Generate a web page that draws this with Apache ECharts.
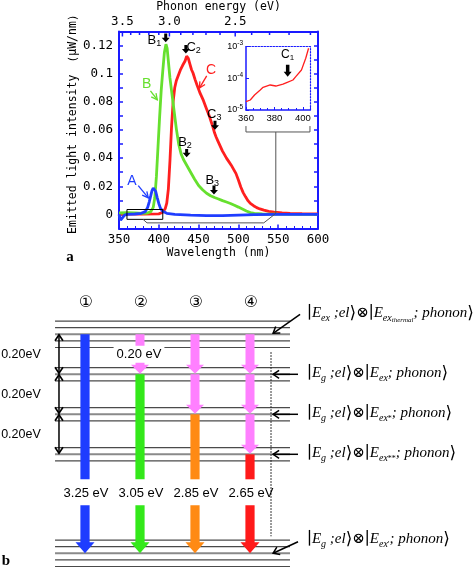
<!DOCTYPE html>
<html><head><meta charset="utf-8">
<script src="https://cdn.jsdelivr.net/npm/echarts@6.0.0/dist/echarts.min.js"></script>
<style>html,body{margin:0;padding:0;background:#fff;}#chart{width:474px;height:568px;}</style>
</head><body><div id="chart"></div>
<script>
// ---------- Panel a: emission spectra ----------
const wavelengthA = [350, 352, 354, 357, 360, 370, 378, 383, 386, 388, 390, 391.5, 393, 394.5, 396, 398, 400, 402, 405, 410, 420, 440, 460, 480, 500, 520, 550, 580, 600];
const intensityA  = [0.000, -0.004, -0.003, -0.0005, 0.000, 0.0003, 0.0008, 0.002, 0.005, 0.009, 0.0135, 0.017, 0.0188, 0.0185, 0.0165, 0.012, 0.0078, 0.0045, 0.0022, 0.0008, 0.000, -0.0005, -0.0008, -0.0008, -0.0005, -0.0002, 0.000, 0.0001, 0.0001];

const wavelengthB = [350, 360, 370, 380, 386, 390, 393, 395, 397, 399, 401, 403, 405, 407, 409, 410.5, 412, 414, 416, 418, 420, 422, 425, 428, 431, 434, 437, 440, 445, 450, 455, 460, 465, 470, 475, 480, 485, 490, 495, 500, 505, 510, 515, 520, 530, 550, 575, 600];
const intensityB  = [0.001, 0.0012, 0.001, 0.0008, 0.001, 0.002, 0.005, 0.012, 0.027, 0.048, 0.069, 0.088, 0.102, 0.115, 0.121, 0.118, 0.109, 0.097, 0.088, 0.079, 0.070, 0.061, 0.050, 0.043, 0.039, 0.0360, 0.033, 0.030, 0.025, 0.0205, 0.0175, 0.015, 0.0133, 0.012, 0.011, 0.0098, 0.0088, 0.0078, 0.0065, 0.0052, 0.0038, 0.0024, 0.0013, 0.0007, 0.0003, 0.0002, 0.0001, 0.0001];

const wavelengthC = [350, 380, 400, 405, 408, 410, 412, 414, 416, 418, 420, 422, 424, 427, 430, 433, 435, 437, 439, 441, 443, 445.5, 448, 450, 452, 454, 456, 458, 460, 462, 464, 466, 468, 470, 472, 474, 476, 478, 480, 482, 485, 488, 491, 494, 497, 500, 503, 506, 509, 512, 515, 519, 523, 527, 532, 538, 545, 555, 565, 580, 600];
const intensityC  = [0.0002, 0.0002, 0.0004, 0.0015, 0.004, 0.008, 0.018, 0.038, 0.062, 0.080, 0.090, 0.095, 0.098, 0.1025, 0.106, 0.109, 0.1125, 0.111, 0.107, 0.103, 0.1005, 0.096, 0.092, 0.089, 0.086, 0.0835, 0.081, 0.078, 0.075, 0.072, 0.069, 0.0655, 0.062, 0.058, 0.055, 0.0525, 0.050, 0.0475, 0.045, 0.043, 0.040, 0.0375, 0.035, 0.032, 0.029, 0.0245, 0.0195, 0.0155, 0.0125, 0.0098, 0.0078, 0.0062, 0.0048, 0.0039, 0.0030, 0.0022, 0.0016, 0.0011, 0.0008, 0.0005, 0.0003];

const insetWavelength = [360, 363, 366, 370, 372, 377, 381, 386, 389, 393, 395, 399, 402, 404];
const insetIntensityC = [1.83e-5, 2.07e-5, 2.98e-5, 4.28e-5, 5.2e-5, 6.17e-5, 5.73e-5, 6.6e-5, 7.5e-5, 8.87e-5, 1.13e-4, 1.84e-4, 4.3e-4, 8.9e-4];

const phononEnergyLabels = [3.5, 3.0, 2.5];
const phononEnergyTicks = [3.5, 3.4, 3.3, 3.2, 3.1, 3.0, 2.9, 2.8, 2.7, 2.6, 2.5, 2.4, 2.3, 2.2, 2.1];
const zoomWindow = [360, 405, -0.0035, 0.0035];

// ---------- Panel b: energy level diagram ----------
const pathwayLabels = ['\u2460', '\u2461', '\u2462', '\u2463'];
const emissionEnergies = [3.25, 3.05, 2.85, 2.65];
const excitedLevels = [3.25, 3.05, 2.85, 2.65];
const relaxationStep = 0.20;
const groundLevel = 0;
const phononSublevelSpacing = 0.033;

// ---------- styles ----------
const FRAME = '#1a1aff';
const MONO = '"DejaVu Sans Mono", "Liberation Mono", monospace';
const SANS = '"Liberation Sans", Arial, sans-serif';
const SERIF = '"Liberation Serif", "DejaVu Serif", serif';
const C_BLUE = '#1f3dff', C_GREEN = '#66e02e', C_RED = '#ff1f1f';
const COL_COLORS = ['#1e3cff', '#33e81a', '#ff8a14', '#ff1a1a'];
const PINK = '#ff80ff';
const LINE_C0 = 0.455, LINE_C1 = 4.727, CUT_E = 2.525, ARROW_TOP_E = 0.24;

const zip = (xs, ys) => xs.map((x, i) => [x, ys[i]]);

function downArrowPts(x, y0, y1, bw, hw, hl) {
  return [[x - bw / 2, y0], [x + bw / 2, y0], [x + bw / 2, y1 - hl], [x + hw / 2, y1 - hl], [x, y1], [x - hw / 2, y1 - hl], [x - bw / 2, y1 - hl]];
}
function headPts(from, to, hl, hh) {
  const dx = to[0] - from[0], dy = to[1] - from[1], L = Math.hypot(dx, dy) || 1;
  const ux = dx / L, uy = dy / L, nx = -uy, ny = ux;
  const bx = to[0] - ux * hl, by = to[1] - uy * hl;
  return [[bx + nx * hh, by + ny * hh], to, [bx - nx * hh, by - ny * hh]];
}
function openArrow(from, to, color, lw, hl, hh) {
  return [
    { type: 'polyline', shape: { points: [from, to] }, style: { stroke: color, lineWidth: lw, fill: 'none' } },
    { type: 'polyline', shape: { points: headPts(from, to, hl, hh) }, style: { stroke: color, lineWidth: lw, fill: 'none' } }
  ];
}
function txt(x, y, text, font, color, extra) {
  return Object.assign({ type: 'text', x: x, y: y, style: Object.assign({ text: text, font: font, fill: color || '#000', align: 'center', verticalAlign: 'middle', textAlign: 'center', textVerticalAlign: 'middle' }, extra || {}) });
}

const ketRich = {
  i: { fontFamily: SERIF, fontStyle: 'italic', fontSize: 15, lineHeight: 20, verticalAlign: 'middle', fill: '#000', color: '#000' },
  u: { fontFamily: SERIF, fontSize: 15, lineHeight: 20, verticalAlign: 'middle', fill: '#000', color: '#000' },
  b: { fontFamily: '"DejaVu Serif", serif', fontSize: 17, lineHeight: 20, verticalAlign: 'middle', fill: '#000', color: '#000' },
  s: { fontFamily: SERIF, fontStyle: 'italic', fontSize: 10, lineHeight: 10, verticalAlign: 'bottom', fill: '#000', color: '#000' },
  t: { fontFamily: SERIF, fontStyle: 'italic', fontSize: 7, lineHeight: 7, verticalAlign: 'bottom', fill: '#000', color: '#000' },
  p: { fontFamily: SERIF, fontSize: 8, lineHeight: 8, verticalAlign: 'bottom', fill: '#000', color: '#000' }
};
const ketTexts = [
  '{b|\u2223}{i|E}{s|ex}{i| ;el}{b|\u27E9}{u|\u2297}{b|\u2223}{i|E}{s|ex}{t|thermal}{i|; phonon}{b|\u27E9}',
  '{b|\u2223}{i|E}{s|g}{i| ;el}{b|\u27E9}{u|\u2297}{b|\u2223}{i|E}{s|ex}{i|; phonon}{b|\u27E9}',
  '{b|\u2223}{i|E}{s|g}{i| ;el}{b|\u27E9}{u|\u2297}{b|\u2223}{i|E}{s|ex}{p|*}{i|; phonon}{b|\u27E9}',
  '{b|\u2223}{i|E}{s|g}{i| ;el}{b|\u27E9}{u|\u2297}{b|\u2223}{i|E}{s|ex}{p|**}{i|; phonon}{b|\u27E9}',
  '{b|\u2223}{i|E}{s|g}{i| ;el}{b|\u27E9}{u|\u2297}{b|\u2223}{i|E}{s|ex}{p|\u2032}{i|; phonon}{b|\u27E9}'
];
function ketRender(params, api) {
  const e = api.value(1), i = api.value(2);
  const tip = api.coord([4.42, i === 0 ? e + 0.005 : e]);
  let from, tp;
  if (i === 0) { from = api.coord([4.91, e + 0.1]); tp = api.coord([5.036, e + 0.105]); }
  else if (i === 4) { from = api.coord([4.873, e + 0.058]); tp = api.coord([5.036, e + 0.07]); }
  else { from = api.coord([4.873, e]); tp = api.coord([5.036, e + 0.006]); }
  const ch = openArrow(from, tip, '#000', 1.5, 6, 4);
  ch.push({ type: 'text', x: tp[0], y: tp[1], style: { text: ketTexts[i], rich: ketRich, align: 'left', textAlign: 'left', verticalAlign: 'middle', textVerticalAlign: 'middle' } });
  return { type: 'group', children: ch };
}
function levelRender(params, api) {
  const e = api.value(1), main = api.value(2);
  const a = api.coord([LINE_C0, e]), b = api.coord([LINE_C1, e]);
  return { type: 'line', shape: { x1: a[0], y1: a[1], x2: b[0], y2: b[1] }, style: { stroke: main ? '#8a8a8a' : '#4a4a4a', lineWidth: main ? 2 : 1.2 } };
}

const topLevelLines = [2, 1, 0, -1, -2].map(k => [LINE_C0, excitedLevels[0] + k * phononSublevelSpacing, k === 0 ? 1 : 0]);
const midLevelLines = [];
excitedLevels.slice(1).forEach(L => [1, 0, -1].forEach(k => midLevelLines.push([LINE_C0, L + k * phononSublevelSpacing, k === 0 ? 1 : 0])));
const groundLines = [2, 1, 0, -1, -2].map(k => [LINE_C0, groundLevel + k * phononSublevelSpacing, k === 0 ? 1 : 0]);

const chart = echarts.init(document.getElementById('chart'));
const yMax = 0.13;

const option = {
  animation: false,
  backgroundColor: '#fff',
  grid: [
    { left: 119, top: 31.5, width: 199, height: 197, outerBoundsMode: 'none' },
    { left: 246, top: 46.7, width: 64, height: 63.3, outerBoundsMode: 'none' },
    { left: 30, top: 314.3, width: 440, height: 165, outerBoundsMode: 'none' },
    { left: 30, top: 503.3, width: 440, height: 65, outerBoundsMode: 'none' }
  ],
  xAxis: [
    { gridIndex: 0, type: 'value', min: 350, max: 600, interval: 50, position: 'bottom',
      axisLine: { onZero: false, lineStyle: { color: FRAME, width: 2 } },
      axisTick: { inside: true, length: 4, lineStyle: { color: FRAME, width: 1.5 } },
      minorTick: { show: true, splitNumber: 5, length: 2.5, lineStyle: { color: FRAME, width: 1 } },
      splitLine: { show: false },
      axisLabel: { color: '#000', fontFamily: MONO, fontSize: 12.5, margin: 5 },
      name: 'Wavelength (nm)', nameLocation: 'middle', nameGap: 19,
      nameTextStyle: { color: '#000', fontFamily: MONO, fontSize: 11.5 } },
    { gridIndex: 0, type: 'value', min: 350, max: 600, position: 'top',
      axisLine: { onZero: false, lineStyle: { color: FRAME, width: 2 } },
      axisTick: { show: false }, axisLabel: { show: false }, splitLine: { show: false },
      name: 'Phonon energy (eV)', nameLocation: 'middle', nameGap: 18,
      nameTextStyle: { color: '#000', fontFamily: MONO, fontSize: 11.5 } },
    { gridIndex: 1, type: 'value', min: 360, max: 405, interval: 20, position: 'bottom',
      axisLine: { onZero: false, lineStyle: { color: FRAME, width: 1.5 } },
      axisTick: { inside: true, length: 3, lineStyle: { color: FRAME } },
      minorTick: { show: true, splitNumber: 4, length: 2, lineStyle: { color: FRAME } },
      splitLine: { show: false },
      axisLabel: { color: '#000', fontFamily: SANS, fontSize: 9.5, margin: 3 } },
    { gridIndex: 1, type: 'value', min: 360, max: 405, position: 'top',
      axisLine: { onZero: false, lineStyle: { color: FRAME, width: 1.2, type: [1.5, 1.5] } },
      axisTick: { show: false }, axisLabel: { show: false }, splitLine: { show: false } },
    { gridIndex: 2, type: 'value', min: 0, max: 8, show: false },
    { gridIndex: 3, type: 'value', min: 0, max: 8, show: false }
  ],
  yAxis: [
    { gridIndex: 0, type: 'value', min: -0.01, max: yMax, interval: 0.01,
      axisLine: { onZero: false, lineStyle: { color: FRAME, width: 2 } },
      axisTick: { inside: true, length: 4, lineStyle: { color: FRAME, width: 1.5 } },
      splitLine: { show: false },
      axisLabel: { color: '#000', fontFamily: MONO, fontSize: 12.5, margin: 6,
        formatter: v => { const n = Math.round(v * 100); return (n >= 0 && n % 2 === 0 && n <= 12) ? String(n / 100) : ''; } },
      name: 'Emitted light intensity \uFF08\u03BCW/nm\uFF09', nameLocation: 'middle', nameGap: 38,
      nameTextStyle: { color: '#000', fontFamily: MONO, fontSize: 11.5, padding: [0, 0, 0, 17] } },
    { gridIndex: 0, type: 'value', min: -0.01, max: yMax, interval: 0.01, position: 'right',
      axisLine: { onZero: false, lineStyle: { color: FRAME, width: 2 } },
      axisTick: { inside: true, length: 4, lineStyle: { color: FRAME, width: 1.5 } },
      axisLabel: { show: false }, splitLine: { show: false } },
    { gridIndex: 1, type: 'log', logBase: 10, min: 1e-5, max: 1e-3,
      axisLine: { onZero: false, lineStyle: { color: FRAME, width: 1.5 } },
      axisTick: { inside: true, length: 3, lineStyle: { color: FRAME } },
      splitLine: { show: false },
      axisLabel: { margin: 3, formatter: v => '{b|10}{s|' + Math.round(Math.log10(v)) + '}',
        rich: { b: { fontFamily: SANS, fontSize: 9, color: '#000' }, s: { fontFamily: SANS, fontSize: 6.5, color: '#000', verticalAlign: 'top', padding: [0, 0, 6, 0] } } } },
    { gridIndex: 1, type: 'log', logBase: 10, min: 1e-5, max: 1e-3, position: 'right',
      axisLine: { onZero: false, lineStyle: { color: FRAME, width: 1.2, type: [1.5, 1.5] } },
      axisTick: { show: false }, axisLabel: { show: false }, splitLine: { show: false } },
    { gridIndex: 2, type: 'value', min: CUT_E, max: 3.35, show: false },
    { gridIndex: 3, type: 'value', min: -0.075, max: 0.25, show: false }
  ],
  series: [
    { type: 'line', name: 'C', xAxisIndex: 0, yAxisIndex: 0, data: zip(wavelengthC, intensityC), showSymbol: false, lineStyle: { color: C_RED, width: 2.8 }, z: 3 },
    { type: 'line', name: 'B', xAxisIndex: 0, yAxisIndex: 0, data: zip(wavelengthB, intensityB), showSymbol: false, lineStyle: { color: C_GREEN, width: 2.8 }, z: 3 },
    { type: 'line', name: 'A', xAxisIndex: 0, yAxisIndex: 0, data: zip(wavelengthA, intensityA), showSymbol: false, lineStyle: { color: C_BLUE, width: 2.8 }, z: 3 },
    { type: 'line', name: 'C inset', xAxisIndex: 2, yAxisIndex: 2, data: zip(insetWavelength, insetIntensityC), showSymbol: false, lineStyle: { color: C_RED, width: 1.3 } },
    // zoom window rectangle
    { type: 'custom', xAxisIndex: 0, yAxisIndex: 0, silent: true, z: 4, data: [zoomWindow],
      renderItem: (params, api) => {
        const a = api.coord([api.value(0), api.value(3)]), b = api.coord([api.value(1), api.value(2)]);
        return { type: 'rect', shape: { x: a[0], y: a[1], width: b[0] - a[0], height: b[1] - a[1] }, style: { stroke: '#000', fill: 'none', lineWidth: 1 } };
      } },
    // phonon energy top axis ticks & labels
    { type: 'custom', xAxisIndex: 1, yAxisIndex: 0, silent: true, z: 4,
      data: phononEnergyTicks.map(e => [1240 / e, yMax, e]),
      renderItem: (params, api) => {
        const e = api.value(2);
        const p = api.coord([api.value(0), api.value(1)]);
        const major = phononEnergyLabels.some(m => Math.abs(m - e) < 1e-6);
        const ch = [{ type: 'line', shape: { x1: p[0], y1: p[1], x2: p[0], y2: p[1] + (major ? 5 : 3.5) }, style: { stroke: FRAME, lineWidth: 1.5 } }];
        if (major) ch.push(txt(p[0], p[1] - 10, e.toFixed(1), '12.5px ' + MONO, '#000'));
        return { type: 'group', children: ch };
      } },
    // diagram: level lines (upper)
    { type: 'custom', xAxisIndex: 4, yAxisIndex: 4, silent: true, data: topLevelLines.concat(midLevelLines), renderItem: levelRender },
    // diagram: ground lines
    { type: 'custom', xAxisIndex: 5, yAxisIndex: 5, silent: true, data: groundLines, renderItem: levelRender },
    // dotted line
    { type: 'custom', xAxisIndex: 4, yAxisIndex: 4, silent: true, data: [[4.382, 3.16, 2.24]],
      renderItem: (params, api) => {
        const a = api.coord([api.value(0), api.value(1)]), b = api.coord([api.value(0), api.value(2)]);
        return { type: 'line', shape: { x1: a[0], y1: a[1], x2: b[0], y2: b[1] }, style: { stroke: '#222', lineWidth: 1.2, lineDash: [1.5, 1.5] } };
      } },
    // diagram: pathways upper part
    { type: 'custom', xAxisIndex: 4, yAxisIndex: 4, silent: true, z: 5,
      data: emissionEnergies.map((e, i) => [i + 1, e, i]),
      renderItem: (params, api) => {
        const col = api.value(0), e = api.value(1), k = api.value(2);
        const top = excitedLevels[0];
        const ch = [];
        for (let j = 0; j < k; j++) {
          const a = api.coord([col, top - j * relaxationStep]);
          const b = api.coord([col, top - (j + 1) * relaxationStep]);
          ch.push({ type: 'polygon', shape: { points: downArrowPts(a[0], a[1], b[1] - 0.5, 9, 18, 9) }, style: { fill: PINK } });
        }
        const s = api.coord([col, e]), b = api.coord([col, CUT_E]);
        ch.push({ type: 'rect', shape: { x: s[0] - 4.6, y: s[1], width: 9.2, height: b[1] - s[1] }, style: { fill: COL_COLORS[k] } });
        const n = api.coord([col, 3.408]);
        ch.push(txt(n[0] + 1, n[1], pathwayLabels[k], '16px "DejaVu Sans", sans-serif', '#000'));
        if (k === 1) {
          const m = api.coord([col, top - relaxationStep / 2]);
          ch.push(txt(m[0] - 1, m[1], relaxationStep.toFixed(2) + ' eV', '13px ' + SANS, '#000', { backgroundColor: '#fff', padding: [2, 3, 2, 3] }));
        }
        return { type: 'group', children: ch };
      } },
    // diagram: pathways lower part (emission arrows)
    { type: 'custom', xAxisIndex: 5, yAxisIndex: 5, silent: true, z: 5,
      data: emissionEnergies.map((e, i) => [i + 1, e, i]),
      renderItem: (params, api) => {
        const col = api.value(0), e = api.value(1), k = api.value(2);
        const a = api.coord([col, ARROW_TOP_E]), b = api.coord([col, groundLevel]);
        const l = api.coord([col, 0.30]);
        return { type: 'group', children: [
          { type: 'polygon', shape: { points: downArrowPts(a[0], a[1], b[1], 9.2, 19, 11) }, style: { fill: COL_COLORS[k] } },
          txt(l[0] + 1, l[1], e.toFixed(2) + ' eV', '13px ' + SANS, '#000')
        ] };
      } },
    // diagram: left double arrows with 0.20 eV
    { type: 'custom', xAxisIndex: 4, yAxisIndex: 4, silent: true, z: 5,
      data: excitedLevels.slice(0, 3).map((e, i) => [0.527, e, excitedLevels[i + 1]]),
      renderItem: (params, api) => {
        const a = api.coord([api.value(0), api.value(1)]), b = api.coord([api.value(0), api.value(2)]);
        const top = [a[0], a[1] + 0.5], bot = [b[0], b[1] - 1];
        const ch = [{ type: 'line', shape: { x1: top[0], y1: top[1], x2: bot[0], y2: bot[1] }, style: { stroke: '#000', lineWidth: 1.5 } },
          { type: 'polyline', shape: { points: headPts(bot, top, 6, 4) }, style: { stroke: '#000', lineWidth: 1.6, fill: 'none' } },
          { type: 'polyline', shape: { points: headPts(top, bot, 6, 4) }, style: { stroke: '#000', lineWidth: 1.6, fill: 'none' } }];
        const m = api.coord([-0.164, (api.value(1) + api.value(2)) / 2]);
        ch.push(txt(m[0], m[1], (api.value(1) - api.value(2)).toFixed(2) + 'eV', '12.5px ' + SANS, '#000'));
        return { type: 'group', children: ch };
      } },
    // diagram: kets (upper)
    { type: 'custom', xAxisIndex: 4, yAxisIndex: 4, silent: true, z: 5,
      data: excitedLevels.map((e, i) => [4.42, e, i]), renderItem: ketRender },
    // diagram: ket (ground)
    { type: 'custom', xAxisIndex: 5, yAxisIndex: 5, silent: true, z: 5,
      data: [[4.42, groundLevel, 4]], renderItem: ketRender }
  ]
};
chart.setOption(option);

// ---------- annotations (positioned in data space) ----------
const P = p => chart.convertToPixel({ xAxisIndex: 0, yAxisIndex: 0 }, p);
const PI = p => chart.convertToPixel({ xAxisIndex: 2, yAxisIndex: 2 }, p);
const g = [];
const curveTags = [
  { t: 'A', color: C_BLUE, at: [366.3, 0.0238], from: [374.2, 0.0205], to: [386.8, 0.0117] },
  { t: 'B', color: C_GREEN, at: [384.8, 0.0929], from: [389.5, 0.0878], to: [398.1, 0.0815] },
  { t: 'C', color: C_RED, at: [465.5, 0.1024], from: [460.2, 0.0985], to: [451, 0.0898] }
];
curveTags.forEach(c => {
  const p = P(c.at);
  g.push(txt(p[0], p[1], c.t, '14px ' + SANS, c.color));
  openArrow(P(c.from), P(c.to), c.color, 1.3, 6, 3).forEach(e => g.push(e));
});
const peakTags = [
  { t: 'B', s: '1', at: [394.5, 0.1237], from: [408.7, 0.1285], to: [408.7, 0.1224] },
  { t: 'C', s: '2', at: [443.8, 0.1188], from: [434, 0.1204], to: [434, 0.1144] },
  { t: 'C', s: '3', at: [469.7, 0.0712], from: [470.6, 0.0666], to: [470.6, 0.0602] },
  { t: 'B', s: '2', at: [432.9, 0.0515], from: [435, 0.0465], to: [435, 0.0406] },
  { t: 'B', s: '3', at: [467.2, 0.0245], from: [469.3, 0.0205], to: [469.3, 0.0141] }
];
const subRich = { m: { fontFamily: SANS, fontSize: 13, fill: '#000', color: '#000', lineHeight: 16, verticalAlign: 'middle' },
                  s: { fontFamily: SANS, fontSize: 9, fill: '#000', color: '#000', lineHeight: 8, verticalAlign: 'bottom' } };
peakTags.forEach(c => {
  const p = P(c.at);
  g.push({ type: 'text', x: p[0], y: p[1], style: { text: '{m|' + c.t + '}{s|' + c.s + '}', rich: subRich, align: 'center', textAlign: 'center', verticalAlign: 'middle', textVerticalAlign: 'middle' } });
  const a = P(c.from), b = P(c.to);
  g.push({ type: 'polygon', shape: { points: downArrowPts(a[0], a[1], b[1], 3, 8, 4.5) }, style: { fill: '#000' } });
});
// inset C1
{
  const p = PI([389.3, 5.6e-4]);
  g.push({ type: 'text', x: p[0], y: p[1], style: { text: '{m|C}{s|1}', rich: { m: { fontFamily: SANS, fontSize: 12, fill: '#000', lineHeight: 14 }, s: { fontFamily: SANS, fontSize: 8, fill: '#000', lineHeight: 7, verticalAlign: 'bottom' } }, align: 'center', textAlign: 'center', verticalAlign: 'middle', textVerticalAlign: 'middle' } });
  const a = PI([389.3, 2.7e-4]), b = PI([389.3, 1.12e-4]);
  g.push({ type: 'polygon', shape: { points: downArrowPts(a[0], a[1], b[1], 3.5, 8, 5) }, style: { fill: '#000' } });
}
// connector from zoom window to inset
const connector = [[380.2, -0.0035], [385.2, -0.006], [531.9, -0.006], [544.5, -0.0004], [547, 0.001], [547, 0.0586]].map(P);
g.push({ type: 'polyline', shape: { points: connector, smooth: 0 }, style: { stroke: '#555', lineWidth: 1, fill: 'none' } });
const bracket = [[509.5, 0.0628], [509.5, 0.0586], [589.9, 0.0586], [589.9, 0.0628]].map(P);
g.push({ type: 'polyline', shape: { points: bracket }, style: { stroke: '#555', lineWidth: 1, fill: 'none' } });
// panel letters
g.push(txt(70, 257, 'a', 'bold 15px ' + SERIF, '#000'));
g.push(txt(6, 561, 'b', 'bold 15px ' + SERIF, '#000'));

chart.setOption({ graphic: { elements: g.map(e => Object.assign({ silent: true, z: 10 }, e)) } });
</script></body></html>
